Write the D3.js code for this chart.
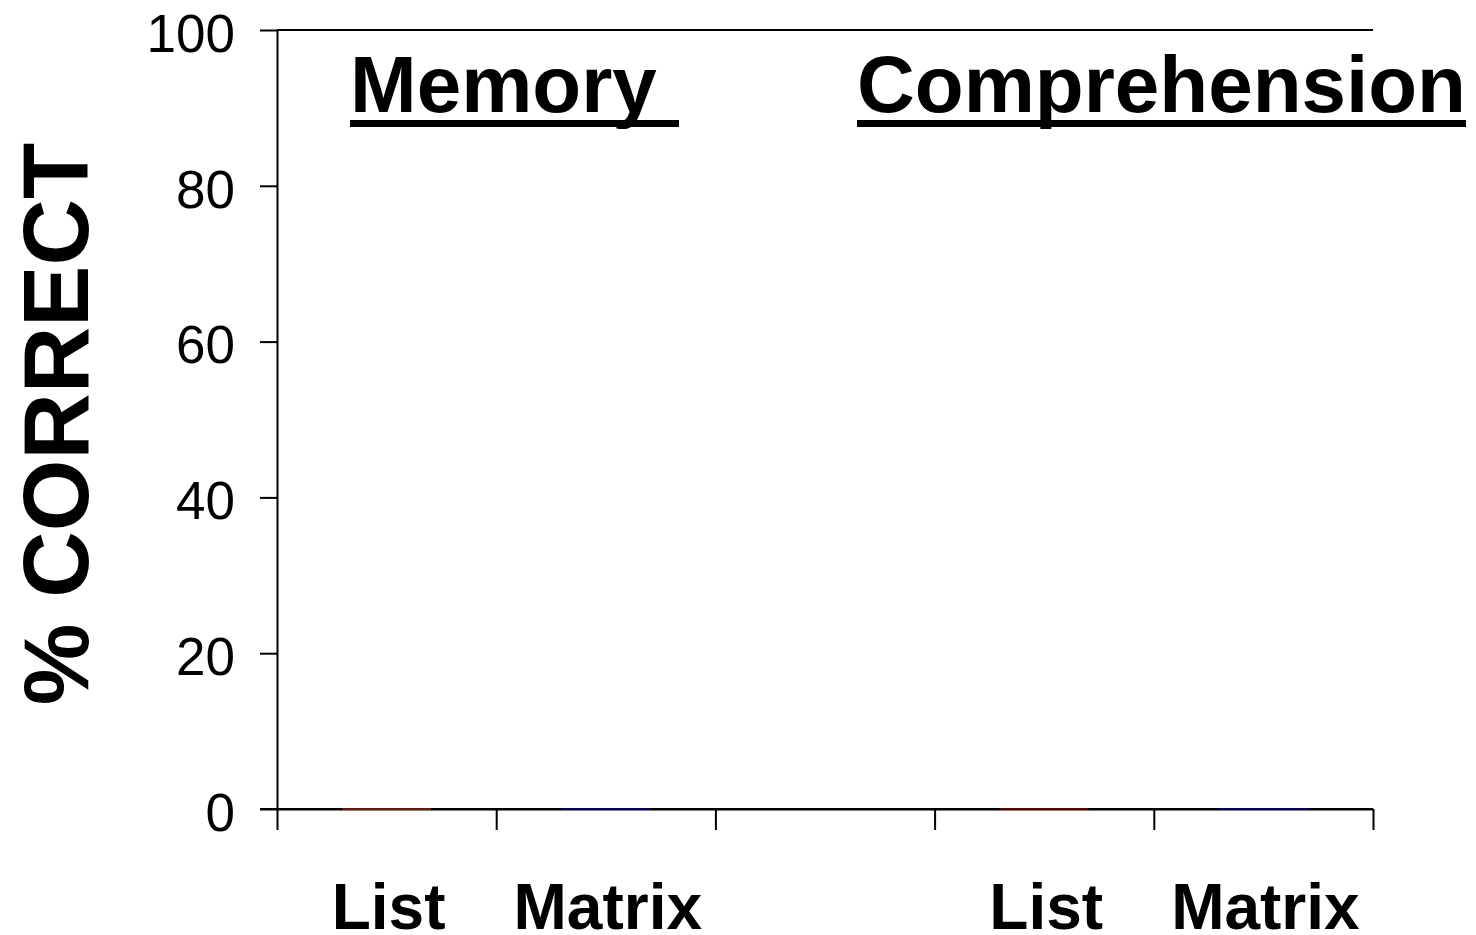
<!DOCTYPE html>
<html>
<head>
<meta charset="utf-8">
<script src="https://cdn.jsdelivr.net/npm/d3@7"></script>
<style>
  html, body { margin: 0; padding: 0; background: #fff; }
  svg { display: block; font-family: "Liberation Sans", Arial, sans-serif; }
</style>
</head>
<body>
<svg id="chart" width="1476" height="935"></svg>
<script>
// ---- data ----
const categories = ["List", "Matrix", "", "List", "Matrix"];
const values = [0, 0, null, 0, 0];
const barColors = ["#6b1a00", "#000066", "none", "#5a0000", "#000066"];
const groupTitles = ["Memory ", "Comprehension"];
const yTicks = [0, 20, 40, 60, 80, 100];
const yTitle = "% CORRECT";

(function () {
// ---- layout ----
const svg = d3.select("#chart");
const mLeft = 277, mRight = 1373, mTop = 30, mBottom = 809;

const y = d3.scaleLinear().domain([0, 100]).range([mBottom, mTop]);
const xb = d3.scaleBand().domain(d3.range(categories.length)).range([mLeft, mRight]).padding(0);
const xEdge = d3.scaleLinear().domain([0, categories.length]).range([mLeft, mRight]);

// top border line at 100
svg.append("line")
  .attr("x1", mLeft).attr("x2", mRight)
  .attr("y1", y(100)).attr("y2", y(100))
  .attr("stroke", "#000").attr("stroke-width", 2);

// y axis
const yAxis = svg.append("g")
  .attr("transform", `translate(${mLeft},0)`)
  .call(d3.axisLeft(y).tickValues(yTicks).tickSize(17).tickPadding(25).tickSizeOuter(0));
yAxis.select(".domain").attr("stroke", "#000").attr("stroke-width", 2);
yAxis.selectAll(".tick line").attr("stroke", "#000").attr("stroke-width", 2);
yAxis.selectAll(".tick text")
  .attr("font-size", 53).attr("fill", "#000")
  .attr("font-family", "'Liberation Sans', Arial, sans-serif")
  .attr("dy", "0.4em");

// x axis (band boundaries)
const xAxis = svg.append("g")
  .attr("transform", `translate(0,${mBottom})`)
  .call(d3.axisBottom(xEdge).tickValues(d3.range(categories.length + 1)).tickFormat("").tickSize(21).tickSizeOuter(0));
xAxis.select(".domain").attr("stroke", "#000").attr("stroke-width", 2);
xAxis.selectAll(".tick line").attr("stroke", "#000").attr("stroke-width", 2);
svg.append("line")
  .attr("x1", mLeft - 17).attr("x2", mRight)
  .attr("y1", y(0)).attr("y2", y(0))
  .attr("stroke", "#000").attr("stroke-width", 2);

// bars
const barFrac = 0.405;
const bw = xb.bandwidth() * barFrac;
svg.append("g").selectAll("rect")
  .data(values.map((v, i) => ({ v, i })).filter(d => d.v !== null))
  .join("rect")
  .attr("x", d => xb(d.i) + (xb.bandwidth() - bw) / 2)
  .attr("width", bw)
  .attr("y", d => y(d.v) - 1)
  .attr("height", d => Math.max(2, y(0) - y(d.v)))
  .attr("fill", d => barColors[d.i]);

// category labels
svg.append("g").selectAll("text")
  .data(categories.map((c, i) => ({ c, i })).filter(d => d.c))
  .join("text")
  .attr("x", d => xb(d.i) + xb.bandwidth() / 2 + 2)
  .attr("y", 929)
  .attr("text-anchor", "middle")
  .attr("font-size", 64).attr("font-weight", "bold").attr("fill", "#000")
  .text(d => d.c);

// group titles with underline
const titleX = [350, 857];
groupTitles.forEach((t, i) => {
  const txt = svg.append("text")
    .attr("x", titleX[i]).attr("y", 112)
    .attr("font-size", 80).attr("font-weight", "bold").attr("fill", "#000")
    .attr("xml:space", "preserve")
    .style("white-space", "pre")
    .text(t);
  const len = txt.node().getComputedTextLength();
  svg.append("rect")
    .attr("x", titleX[i]).attr("y", 120)
    .attr("width", len).attr("height", 7)
    .attr("fill", "#000");
});

// y title
svg.append("text")
  .attr("transform", "translate(88,424) rotate(-90)")
  .attr("text-anchor", "middle")
  .attr("font-size", 92).attr("font-weight", "bold").attr("fill", "#000")
  .text(yTitle);
})();
</script>
</body>
</html>
